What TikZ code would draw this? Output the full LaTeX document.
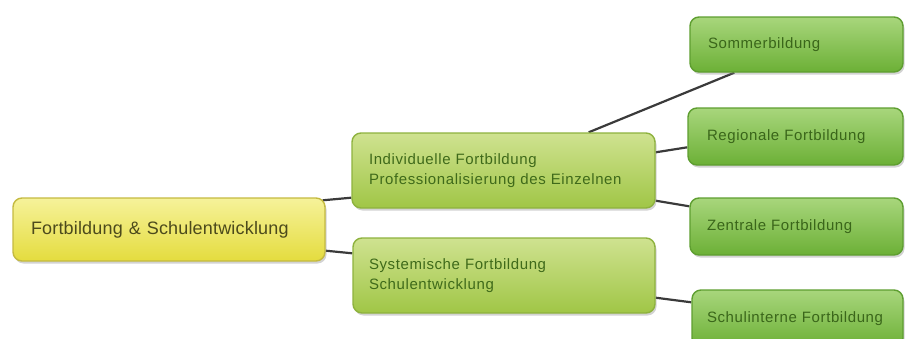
\documentclass[tikz,border=0pt]{standalone}
\usepackage{fontspec}
\setmainfont{Liberation Sans}
\newfontfamily\rootfont{Liberation Sans}[LetterSpace=1]
\newfontfamily\boxfont{Liberation Sans}[LetterSpace=4]
\usetikzlibrary{shadows,calc,backgrounds}
\definecolor{rootTop}{HTML}{F6F29A}
\definecolor{rootBot}{HTML}{E4DC3E}
\definecolor{rootLine}{HTML}{C4BA40}
\definecolor{rootText}{HTML}{4C4A1C}
\definecolor{midTop}{HTML}{CFE290}
\definecolor{midBot}{HTML}{A0C646}
\definecolor{midLine}{HTML}{8EB23E}
\definecolor{midText}{HTML}{3F6A1A}
\definecolor{leafTop}{HTML}{A8D67C}
\definecolor{leafBot}{HTML}{6CB036}
\definecolor{leafLine}{HTML}{5E9E30}
\definecolor{leafText}{HTML}{3A661A}
\definecolor{conn}{HTML}{3A3A3A}
\tikzset{
  basebox/.style={rectangle, rounded corners=9pt, line width=1.4pt, anchor=center,
    drop shadow={opacity=0.35, shadow xshift=1.5pt, shadow yshift=-2.5pt}},
  rootbox/.style={basebox, draw=rootLine, top color=rootTop, bottom color=rootBot,
    text=rootText, font=\rootfont\fontsize{18}{22}\selectfont, align=left},
  midbox/.style={basebox, draw=midLine, top color=midTop, bottom color=midBot,
    text=midText, font=\boxfont\fontsize{15}{19.5}\selectfont, align=left},
  leafbox/.style={basebox, draw=leafLine, top color=leafTop, bottom color=leafBot,
    text=leafText, font=\boxfont\fontsize{15}{18}\selectfont, align=left},
  connector/.style={draw=conn, line width=2.2pt}
}
\begin{document}
\begin{tikzpicture}[x=1pt,y=-1pt]
\useasboundingbox (0,0) rectangle (905,338);
\node[rootbox, minimum width=312pt, minimum height=63pt, inner xsep=18pt, text width=276pt] (root) at (169,229.5) {Fortbildung \& Schulentwicklung};
\node[midbox, minimum width=303pt, minimum height=75pt, inner xsep=17pt, text width=269pt] (indiv) at (503.5,170.5) {Individuelle Fortbildung\\Professionalisierung des Einzelnen};
\node[midbox, minimum width=302pt, minimum height=75pt, inner xsep=16pt, text width=270pt] (syst) at (504,275.5) {Systemische Fortbildung\\Schulentwicklung};
\node[leafbox, minimum width=213pt, minimum height=55pt, inner xsep=18pt, text width=177pt] (sommer) at (796.5,44.5) {Sommerbildung};
\node[leafbox, minimum width=215pt, minimum height=57pt, inner xsep=19pt, text width=177pt] (regio) at (795.5,136.5) {Regionale Fortbildung};
\node[leafbox, minimum width=213pt, minimum height=57pt, inner xsep=17pt, text width=179pt] (zentral) at (796.5,226.5) {Zentrale Fortbildung};
\node[leafbox, minimum width=211pt, minimum height=57pt, inner xsep=15pt, text width=181pt] (schul) at (797.5,318.5) {Schulinterne Fortbildung};
\begin{pgfonlayer}{background}
\draw[connector] ([xshift=-3pt,yshift=-3pt]root.north east) -- ([yshift=11pt]indiv.south west);
\draw[connector] ([yshift=11pt]root.south east) -- ([yshift=-16pt]syst.north west);
\draw[connector] ([xshift=-67pt]indiv.north east) -- ([xshift=45pt]sommer.south west);
\draw[connector] ([yshift=-20pt]indiv.north east) -- ([yshift=-40pt]regio.north west);
\draw[connector] ([yshift=8pt]indiv.south east) -- ([yshift=-9pt]zentral.north west);
\draw[connector] ([yshift=16pt]syst.south east) -- ([yshift=-13pt]schul.north west);
\end{pgfonlayer}
\end{tikzpicture}
\end{document}
